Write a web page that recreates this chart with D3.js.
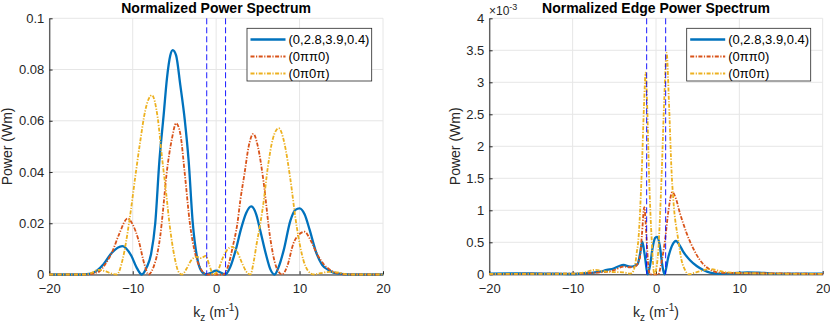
<!DOCTYPE html>
<html>
<head>
<meta charset="utf-8">
<script src="https://cdn.jsdelivr.net/npm/d3@7"></script>
<style>
  body { margin: 0; background: #fff; }
  text { font-family: "Liberation Sans", Arial, Helvetica, sans-serif; fill: #262626; }
</style>
</head>
<body>
<div class="chart"></div>
<script>
// legend names
let seriesNames = ['(0,2.8,3.9,0.4)', '(0\u03c0\u03c00)', '(0\u03c00\u03c0)'];
let colors = ['#0072BD', '#D95319', '#EDB120'];

// axis ticks
let xTicks = [-20, -10, 0, 10, 20];
let yTicksL = [0, 0.02, 0.04, 0.06, 0.08, 0.1];
let yTicksR = [0, 0.5, 1, 1.5, 2, 2.5, 3, 3.5, 4];

// dashed cut-off lines (kz)
let cutL = [-1.13, 1.13];
let cutR = [-1.12, 1.16];

// ---- Normalized Power Spectrum (Wm) ----
let kBlueL = [-20, -16, -15, -14.3, -13.5, -12.5, -11.25, -10.2, -9.5, -8.9, -8.3, -7.8, -7.3, -6.8, -6.3, -5.9, -5.5, -5.2, -4.8, -4.3, -3.75, -3.3, -2.8, -2.3, -1.8, -1.2, -0.6, 0, 0.6, 1.1, 1.7, 2.3, 3.0, 3.6, 4.2, 4.8, 5.3, 6.0, 6.5, 7.0, 7.5, 8.1, 8.9, 9.5, 10.0, 10.6, 11.2, 12.0, 12.7, 13.6, 14.5, 16, 20];
let pBlueL = [0, 0, 0.0003, 0.0015, 0.004, 0.0085, 0.0111, 0.0075, 0.0025, 0, 0.003, 0.008, 0.02, 0.0445, 0.062, 0.0765, 0.0855, 0.0876, 0.0855, 0.074, 0.060, 0.0445, 0.020, 0.0069, 0.0015, 0, 0.0007, 0.0015, 0.0007, 0, 0.003, 0.009, 0.018, 0.024, 0.0266, 0.0235, 0.017, 0.0075, 0.002, 0, 0.003, 0.0095, 0.021, 0.0252, 0.0258, 0.0235, 0.0175, 0.0085, 0.0038, 0.0015, 0.0004, 0, 0];

let kRedL = [-20, -15.5, -14.5, -14.0, -13.3, -12.5, -11.6, -10.6, -10.0, -9.3, -8.6, -8.1, -7.5, -7.0, -6.7, -6.4, -5.95, -5.3, -4.8, -4.3, -3.75, -3.15, -2.5, -1.8, -1.1, 0, 0.9, 1.5, 2.0, 2.55, 2.9, 3.4, 3.9, 4.46, 5.0, 5.66, 6.46, 7.2, 7.9, 8.5, 9.26, 10.0, 10.6, 11.3, 12.06, 12.9, 13.66, 14.5, 16, 20];
let pRedL = [0, 0, 0.0006, 0.0012, 0.004, 0.0085, 0.016, 0.0219, 0.0195, 0.0134, 0.004, 0, 0.003, 0.009, 0.015, 0.024, 0.039, 0.053, 0.059, 0.055, 0.039, 0.020, 0.008, 0.002, 0, 0, 0, 0.004, 0.011, 0.020, 0.029, 0.0394, 0.050, 0.0549, 0.050, 0.0368, 0.0147, 0.003, 0, 0.003, 0.0121, 0.0158, 0.0167, 0.0135, 0.0082, 0.004, 0.0018, 0.0005, 0, 0];

let kYelL = [-20, -16, -15, -14.1, -13.2, -12.5, -11.9, -11.2, -10.4, -9.7, -9.1, -8.5, -7.7, -7.0, -6.5, -6.0, -5.6, -5.0, -4.5, -4.1, -3.5, -3.0, -2.3, -1.8, -1.25, -0.8, -0.35, 0.2, 0.8, 1.3, 1.9, 2.5, 3.1, 3.6, 4.1, 4.5, 4.86, 5.3, 5.66, 6.2, 6.8, 7.5, 8.2, 8.86, 9.66, 10.46, 11.0, 11.7, 12.5, 13.5, 14.5, 16, 20];
let pYelL = [0, 0, 0.0005, 0.0018, 0.0012, 0.0003, 0, 0.006, 0.021, 0.038, 0.052, 0.064, 0.070, 0.061, 0.046, 0.032, 0.020, 0.007, 0.001, 0, 0.0025, 0.0055, 0.0069, 0.0064, 0.0073, 0.0035, 0, 0.0015, 0.0065, 0.0095, 0.0108, 0.009, 0.0045, 0.0012, 0, 0.005, 0.0121, 0.020, 0.0277, 0.042, 0.053, 0.0571, 0.051, 0.038, 0.0186, 0.0056, 0.0015, 0, 0.0005, 0.001, 0.0008, 0, 0];

// ---- Normalized Edge Power Spectrum (x 1e-3 Wm) ----
let kBlueR = [-20, -15, -12, -10, -9.1, -8, -6.7, -5.9, -5.1, -4.4, -3.9, -3.1, -2.6, -2.2, -1.9, -1.65, -1.35, -1.0, -0.7, -0.4, -0.1, 0.16, 0.45, 0.75, 1.0, 1.48, 1.9, 2.4, 2.8, 3.28, 4.08, 4.88, 5.68, 6.48, 7.5, 9, 11, 13, 15, 20];
let pBlueR = [0.01, 0.015, 0.01, 0.005, 0.01, 0.02, 0.04, 0.07, 0.09, 0.13, 0.145, 0.12, 0.13, 0.16, 0.33, 0.51, 0.3, 0, 0.15, 0.42, 0.57, 0.585, 0.45, 0.15, 0, 0.27, 0.44, 0.52, 0.46, 0.35, 0.22, 0.13, 0.067, 0.025, 0.008, 0.015, 0.03, 0.02, 0.01, 0.01];

let kRedR = [-20, -12, -9, -8, -6.7, -5.1, -3.9, -3.1, -2.5, -2.1, -1.92, -1.7, -1.4, -1.15, -0.9, -0.72, 0.28, 0.6, 1.08, 1.5, 1.96, 2.4, 2.88, 3.28, 3.68, 4.48, 5.28, 6.08, 6.88, 7.68, 10, 14, 20];
let pRedR = [0.005, 0.01, 0.01, 0.02, 0.03, 0.06, 0.12, 0.11, 0.12, 0.2, 0.27, 0.6, 1.05, 0.6, 0.1, 0, 0, 0.15, 0.53, 1.0, 1.285, 1.18, 0.95, 0.79, 0.64, 0.40, 0.22, 0.11, 0.05, 0.025, 0.02, 0.015, 0.005];

let kYelR = [-20, -10, -8.5, -7.3, -5.9, -3.9, -3.1, -2.9, -2.5, -2.3, -2.12, -1.72, -1.45, -1.24, -1.05, -0.84, -0.5, -0.2, 0.2, 0.68, 0.98, 1.28, 1.55, 1.88, 2.08, 2.68, 3.1, 3.48, 3.88, 4.8, 6.48, 8.48, 12, 20];
let pYelR = [0.005, 0.01, 0.03, 0.07, 0.04, 0.03, 0.01, 0.02, 0.15, 0.35, 0.53, 1.57, 2.6, 3.15, 2.6, 1.57, 0.5, 0, 0.25, 1.57, 2.7, 3.46, 2.7, 1.57, 1.16, 0.53, 0.2, 0.07, 0, 0.03, 0.08, 0.03, 0.015, 0.005];

let svg = d3.select('.chart')
    .append('svg')
    .attr('width', 830)
    .attr('height', 324);

function drawPanel(p) {
    let x = d3.scaleLinear().domain([-20, 20]).range([p.left, p.right]);
    let y = d3.scaleLinear().domain(p.yDomain).range([p.bottom, p.top]);
    let g = svg.append('g');

    // grid
    g.append('g').selectAll('line').data(xTicks).enter().append('line')
        .attr('x1', d => x(d)).attr('x2', d => x(d))
        .attr('y1', p.top).attr('y2', p.bottom)
        .style('stroke', '#e6e6e6').style('stroke-width', 1);
    g.append('g').selectAll('line').data(p.yTicks).enter().append('line')
        .attr('y1', d => y(d)).attr('y2', d => y(d))
        .attr('x1', p.left).attr('x2', p.right)
        .style('stroke', '#e6e6e6').style('stroke-width', 1);

    // axes, ticks pointing inward
    let xAxis = d3.axisBottom(x).tickValues(xTicks).tickSizeInner(-3.3).tickSizeOuter(0).tickPadding(9);
    let yAxis = d3.axisLeft(y).tickValues(p.yTicks).tickFormat(p.fmt).tickSizeInner(-3.3).tickSizeOuter(0).tickPadding(5);
    let gx = g.append('g').attr('transform', `translate(0, ${p.bottom})`).call(xAxis);
    let gy = g.append('g').attr('transform', `translate(${p.left}, 0)`).call(yAxis);
    [gx, gy].forEach(a => {
        a.select('.domain').style('stroke', '#262626');
        a.selectAll('.tick line').style('stroke', '#262626');
        a.selectAll('text').style('font-size', '13px').style('fill', '#262626')
            .style('font-family', '"Liberation Sans", Arial, sans-serif');
    });

    // curves
    let line = d3.line().x(d => x(d[0])).y(d => y(d[1])).curve(d3.curveMonotoneX);
    let dashes = [null, '4,1.5,1.2,1.5', '4,1.5,1.2,1.5'];
    let widths = [2.3, 1.8, 1.8];
    p.series.forEach((s, i) => {
        g.append('path')
            .datum(d3.zip(s[0], s[1]))
            .attr('d', line)
            .style('fill', 'none')
            .style('stroke', colors[i])
            .style('stroke-width', widths[i])
            .style('stroke-dasharray', dashes[i]);
    });

    // cut-off lines
    g.append('g').selectAll('line').data(p.cuts).enter().append('line')
        .attr('x1', d => x(d)).attr('x2', d => x(d))
        .attr('y1', p.top).attr('y2', p.bottom)
        .style('stroke', '#0000FF').style('stroke-width', 0.9)
        .style('stroke-dasharray', '6,3');

    // title
    g.append('text')
        .attr('x', (p.left + p.right) / 2).attr('y', 12.5)
        .style('text-anchor', 'middle').style('font-size', '14px').style('font-weight', 'bold')
        .style('fill', '#000')
        .text(p.title);

    // y label
    g.append('text')
        .attr('transform', `translate(${p.ylabX}, ${(p.top + p.bottom) / 2}) rotate(-90)`)
        .style('text-anchor', 'middle').style('font-size', '14px')
        .text('Power (Wm)');

    // x label
    let xl = g.append('text')
        .attr('x', (p.left + p.right) / 2).attr('y', 316.5)
        .style('text-anchor', 'middle').style('font-size', '14px');
    xl.append('tspan').text('k');
    xl.append('tspan').attr('dy', 4).style('font-size', '10px').text('z');
    xl.append('tspan').attr('dy', -4).text(' (m');
    xl.append('tspan').attr('dy', -6).style('font-size', '10px').text('-1');
    xl.append('tspan').attr('dy', 6).text(')');

    // legend
    let lg = g.append('g');
    lg.append('rect')
        .attr('x', p.legX).attr('y', 28.3)
        .attr('width', p.legW).attr('height', 52.7)
        .style('fill', '#fff').style('stroke', '#262626').style('stroke-width', 0.8);
    seriesNames.forEach((n, i) => {
        let ly = 39.5 + i * 17;
        lg.append('line')
            .attr('x1', p.legX + 3.5).attr('x2', p.legX + 38.5)
            .attr('y1', ly).attr('y2', ly)
            .style('stroke', colors[i]).style('stroke-width', widths[i])
            .style('stroke-dasharray', dashes[i]);
        lg.append('text')
            .attr('x', p.legX + 41.5).attr('y', ly).attr('dy', '0.35em')
            .style('font-size', '13px').style('fill', '#000')
            .text(n);
    });
}

drawPanel({
    left: 49.3, right: 383, top: 18.3, bottom: 274.5,
    yDomain: [0, 0.1], yTicks: yTicksL, fmt: d3.format('~g'),
    series: [[kBlueL, pBlueL], [kRedL, pRedL], [kYelL, pYelL]],
    cuts: cutL, title: 'Normalized Power Spectrum',
    ylabX: 11.5, legX: 247, legW: 124.7
});

drawPanel({
    left: 489.3, right: 822.7, top: 18.3, bottom: 274.3,
    yDomain: [0, 4], yTicks: yTicksR, fmt: d3.format('~g'),
    series: [[kBlueR, pBlueR], [kRedR, pRedR], [kYelR, pYelR]],
    cuts: cutR, title: 'Normalized Edge Power Spectrum',
    ylabX: 460, legX: 686.7, legW: 124
});

// exponent label of the right axis
let ex = svg.append('text')
    .attr('x', 489).attr('y', 14.5)
    .style('font-size', '12px');
ex.append('tspan').text('\u00d710');
ex.append('tspan').attr('dy', -5).style('font-size', '9px').text('-3');
</script>
</body>
</html>
